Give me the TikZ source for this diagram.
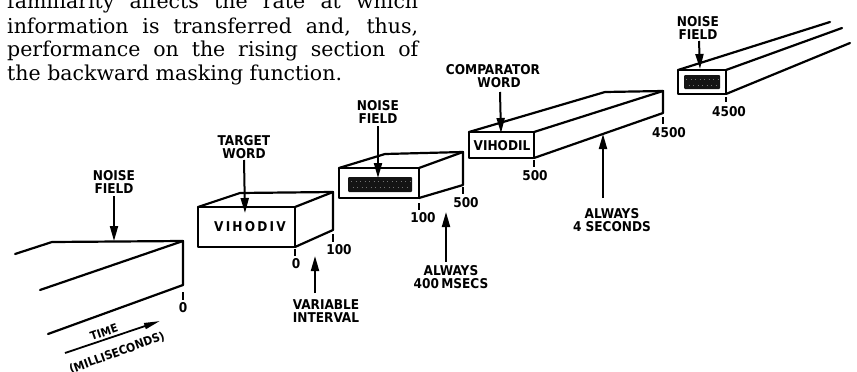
\documentclass[tikz,border=0pt]{standalone}
\usepackage{fontspec}
\setmainfont{DejaVu Serif}
\newfontfamily\labfont{DejaVu Sans Condensed}
\usetikzlibrary{arrows.meta}
\begin{document}
\begin{tikzpicture}[x=1pt,y=-1pt,
  edge/.style={line width=2.2pt, line cap=round, line join=round},
  arr/.style={line width=2pt, -{Triangle[length=15pt,width=8pt]}},
  tickmark/.style={line width=2pt},
  lab/.style={font=\labfont\bfseries\fontsize{13.5}{13}\selectfont, align=center, inner sep=0pt},
  num/.style={font=\labfont\bfseries\fontsize{13.5}{13}\selectfont, inner sep=0pt},
  para/.style={font=\fontsize{20.5}{23.5}\selectfont, anchor=base west, inner sep=0pt},
  noisefill/.style={fill=black!92, rounded corners=1pt},
  speckle/.style={black!55, line width=1pt, dash pattern=on 1pt off 3.5pt}]
\useasboundingbox (0,0) rectangle (857,372);

% paragraph
\node[para] (p1) at (7,8.5) {\makebox[411pt][s]{familiarity affects the rate at which}};
\node[para] (p2) at (7,33) {\makebox[411pt][s]{information is transferred and, thus,}};
\node[para] (p3) at (7,56.7) {\makebox[411pt][s]{performance on the rising section of}};
\node[para] (p4) at (7,80) {the backward masking function.};

% ---- slab 1 (noise field up to 0)
\coordinate (s1a) at (15,254);
\coordinate (s1b) at (52,242);
\coordinate (s1c) at (183,241);
\coordinate (s1d) at (183,285);
\coordinate (s1e) at (40,290);
\coordinate (s1f) at (48,334);
\draw[edge] (s1a) -- (s1b) -- (s1c) -- (s1d);
\draw[edge] (s1e) -- (s1c);
\draw[edge] (s1f) -- (s1d);
\draw[tickmark] (183,292) -- (183,300);
\node[num] (n0a) at (183,308) {0};
\node[lab] (nf1) at (114,181.5) {NOISE\\FIELD};
\coordinate (nf1s) at (114,196);
\coordinate (nf1e) at (114,241);
\draw[arr] (nf1s) -- (nf1e);

% time arrow
\coordinate (ta) at (65,353);
\coordinate (tb) at (160,321);
\draw[line width=1.8pt, -{Triangle[length=16pt,width=6pt]}] (ta) -- (tb);
\node[lab, font=\labfont\bfseries\fontsize{11.5}{11}\selectfont, rotate=19] (time) at (104,332) {TIME};
\node[lab, font=\labfont\bfseries\fontsize{12}{12}\selectfont, rotate=20] (ms) at (117,353) {(MILLISECONDS)};

% ---- target word box
\coordinate (b1a) at (198,207);
\coordinate (b1b) at (295,207);
\coordinate (b1c) at (295,247);
\coordinate (b1d) at (198,247);
\coordinate (b1e) at (240,193);
\coordinate (b1f) at (333,192);
\coordinate (b1g) at (333,230);
\draw[edge] (b1a) -- (b1b) -- (b1c) -- (b1d) -- cycle;
\draw[edge] (b1a) -- (b1e) -- (b1f) -- (b1g) -- (b1c);
\draw[edge] (b1b) -- (b1f);
\node[num] (w1) at (250,227) {V\kern2.2pt I\kern2.2pt H\kern2.2pt O\kern2.2pt D\kern2.2pt I\kern2.2pt V};
\draw[tickmark] (295,249) -- (295,256);
\node[num] (n0b) at (296,264) {0};
\draw[tickmark] (333,234) -- (333,242);
\node[num] (n100a) at (339,250) {100};
\node[lab] (tw) at (244,147.5) {TARGET\\WORD};
\coordinate (tws) at (244,160);
\coordinate (twe) at (245,213);
\draw[arr] (tws) -- (twe);
\node[lab] (vi) at (326,311) {VARIABLE\\INTERVAL};
\coordinate (vis) at (315,293);
\coordinate (vie) at (315,256);
\draw[arr] (vis) -- (vie);

% ---- noise box 2
\coordinate (b2a) at (339,168);
\coordinate (b2b) at (419,168);
\coordinate (b2c) at (419,198);
\coordinate (b2d) at (339,198);
\coordinate (b2e) at (385,154);
\coordinate (b2f) at (463,152);
\coordinate (b2g) at (463,185);
\draw[edge] (b2a) -- (b2b) -- (b2c) -- (b2d) -- cycle;
\draw[edge] (b2a) -- (b2e) -- (b2f) -- (b2g) -- (b2c);
\draw[edge] (b2b) -- (b2f);
\fill[noisefill] (348,177) rectangle (412,192);
\draw[speckle] (351,181) -- (410,181);
\draw[speckle, dash phase=2pt] (350,187) -- (410,187);
\draw[tickmark] (419,203) -- (419,210);
\node[num] (n100b) at (423,218) {100};
\draw[tickmark] (463,187) -- (463,194);
\node[num] (n500a) at (466,203) {500};
\node[lab] (nf2) at (378,111.5) {NOISE\\FIELD};
\coordinate (nf2s) at (378,126);
\coordinate (nf2e) at (378,178);
\draw[arr] (nf2s) -- (nf2e);
\node[lab] (a400) at (451,277) {ALWAYS\\400\,MSECS};
\coordinate (a4s) at (446,262);
\coordinate (a4e) at (446,212);
\draw[arr] (a4s) -- (a4e);

% ---- comparator box
\coordinate (b3a) at (469,132);
\coordinate (b3b) at (534,132);
\coordinate (b3c) at (534,158);
\coordinate (b3d) at (469,158);
\coordinate (b3e) at (605,92);
\coordinate (b3f) at (663,91);
\coordinate (b3g) at (663,113);
\draw[edge] (b3a) -- (b3b) -- (b3c) -- (b3d) -- cycle;
\draw[edge] (b3a) -- (b3e) -- (b3f) -- (b3g) -- (b3c);
\draw[edge] (b3b) -- (b3f);
\node[num] (w2) at (502,146) {VIHODIL};
\node[lab] (cw) at (493,76.5) {COMPARATOR\\\hspace*{12pt}WORD};
\coordinate (cws) at (500,92);
\coordinate (cwe) at (501,133);
\draw[arr] (cws) -- (cwe);
\draw[tickmark] (534,160) -- (534,167);
\node[num] (n500b) at (535,176) {500};
\draw[tickmark] (663,117) -- (663,124);
\node[num] (n4500a) at (669,133) {4500};
\node[lab] (a4sec) at (612,220.5) {ALWAYS\\4 SECONDS};
\coordinate (a5s) at (603,198);
\coordinate (a5e) at (603,134);
\draw[arr] (a5s) -- (a5e);

% ---- last noise box
\coordinate (b4a) at (678,70);
\coordinate (b4b) at (726,70);
\coordinate (b4c) at (726,94);
\coordinate (b4d) at (678,94);
\coordinate (b4e) at (830,22);
\coordinate (b4f) at (842,28);
\coordinate (b4g) at (850,43);
\draw[edge] (b4a) -- (b4b) -- (b4c) -- (b4d) -- cycle;
\draw[edge] (b4a) -- (b4e);
\draw[edge] (b4b) -- (b4f);
\draw[edge] (b4c) -- (b4g);
\fill[noisefill] (684,75) rectangle (720,89);
\draw[speckle] (686,79) -- (719,79);
\draw[speckle, dash phase=2pt] (686,85) -- (719,85);
\draw[tickmark] (726,97) -- (726,102);
\node[num] (n4500b) at (729,112) {4500};
\node[lab] (nf3) at (698,28) {NOISE\\FIELD};
\coordinate (nf3s) at (699,41);
\coordinate (nf3e) at (700,69);
\draw[arr] (nf3s) -- (nf3e);
\end{tikzpicture}
\end{document}
